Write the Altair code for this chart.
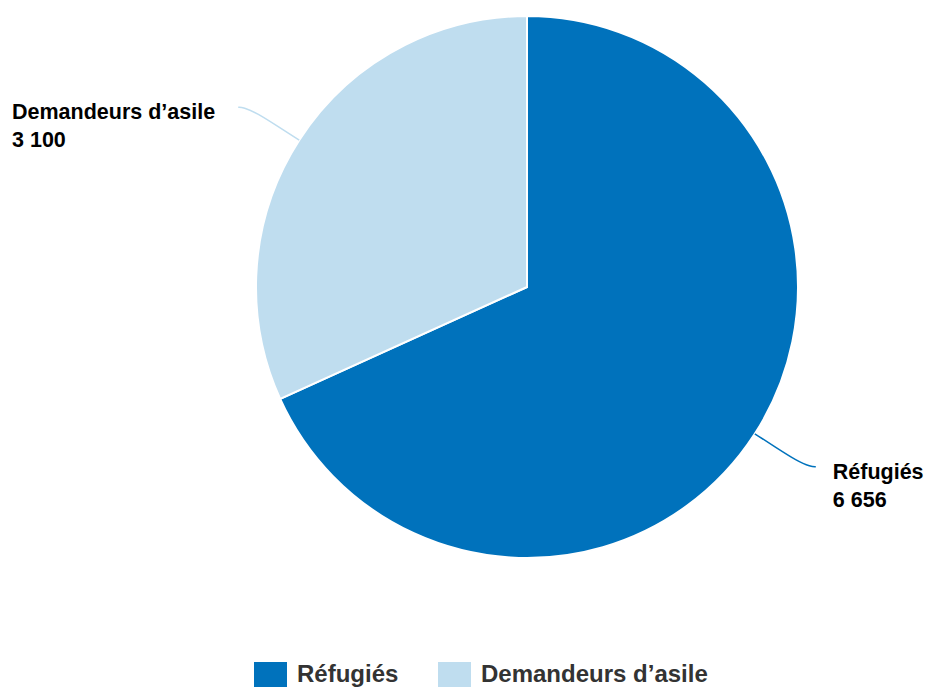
import math
import altair as alt
import pandas as pd

# ---- data ----
categories = ["Réfugiés", "Demandeurs d’asile"]
values = [6656, 3100]
colors = ["#0072BC", "#BFDDEF"]

# ---- layout (chart pixels) ----
W, H = 916, 682
CX, CY, R = 519, 279, 271
BREAK = 25          # connector break distance outside the pie
DX, DY = 61, 33     # connector horizontal / vertical reach
LABEL_GAP = 17      # gap between connector end and right-side label
LEFT_LABEL_X = 4    # left edge of labels placed on the left side
FONT = "Liberation Sans"

total = sum(values)
pie_df = pd.DataFrame({"cat": categories, "val": values, "idx": list(range(len(values)))})

line_rows, text_rows = [], []
cum = 0
for i, (c, v) in enumerate(zip(categories, values)):
    mid = (cum + v / 2) / total * 2 * math.pi
    cum += v
    s, co = math.sin(mid), -math.cos(mid)
    tx, ty = CX + R * s, CY + R * co
    bx, by = CX + (R + BREAK) * s, CY + (R + BREAK) * co
    side = 1 if s >= 0 else -1
    vs = 1 if co >= 0 else -1
    lx, ly = tx + side * DX, ty + vs * DY
    pts = [(lx, ly), (lx - side * 5, ly), (2 * bx - tx, 2 * by - ty), (bx, by), (tx, ty)]
    for k, (px, py) in enumerate(pts):
        line_rows.append({"cat": c, "ord": k, "px": px, "py": py})
    text_rows.append({
        "cat": c,
        "txt": c + "\n" + f"{v:,}".replace(",", " "),
        "px": lx + LABEL_GAP if side > 0 else LEFT_LABEL_X,
        "py": ly + 12,
    })

line_df = pd.DataFrame(line_rows)
text_df = pd.DataFrame(text_rows)

xs = alt.Scale(domain=[0, W], range=[0, W], nice=False, zero=False)
ys = alt.Scale(domain=[0, H], range=[0, H], nice=False, zero=False)
cscale = alt.Scale(domain=categories, range=colors)

pie = alt.Chart(pie_df).mark_arc(outerRadius=R, stroke="white", strokeWidth=2).encode(
    theta=alt.Theta("val:Q", stack=True),
    color=alt.Color(
        "cat:N", scale=cscale, sort=categories,
        legend=alt.Legend(
            title=None, orient="none", legendX=250, legendY=654, direction="horizontal",
            symbolType="M-1.32,-1H1.32V1H-1.32Z", symbolSize=625, symbolStrokeWidth=0,
            labelFont=FONT, labelFontSize=24, labelFontWeight="bold", labelColor="#333333",
            labelOffset=14, columnPadding=39, labelLimit=400, padding=0,
        ),
    ),
    order=alt.Order("idx:Q"),
    x=alt.value(CX),
    y=alt.value(CY),
)

lines = alt.Chart(line_df).mark_line(interpolate="basis", strokeWidth=1.5).encode(
    x=alt.X("px:Q", scale=xs, axis=None),
    y=alt.Y("py:Q", scale=ys, axis=None),
    detail="cat:N",
    order="ord:Q",
    stroke=alt.Stroke("cat:N", scale=cscale, legend=None),
)

labels = alt.Chart(text_df).mark_text(
    align="left", baseline="alphabetic", lineBreak="\n", lineHeight=28,
    font=FONT, fontSize=21.5, fontWeight="bold", color="#000000",
).encode(
    x=alt.X("px:Q", scale=xs, axis=None),
    y=alt.Y("py:Q", scale=ys, axis=None),
    text="txt:N",
)

chart = alt.layer(pie, lines, labels).resolve_scale(stroke="independent").properties(
    width=W, height=H, padding=0, autosize="none"
).configure_view(stroke=None)

chart.save("out.html", embed_options={"renderer": "svg", "actions": False})
